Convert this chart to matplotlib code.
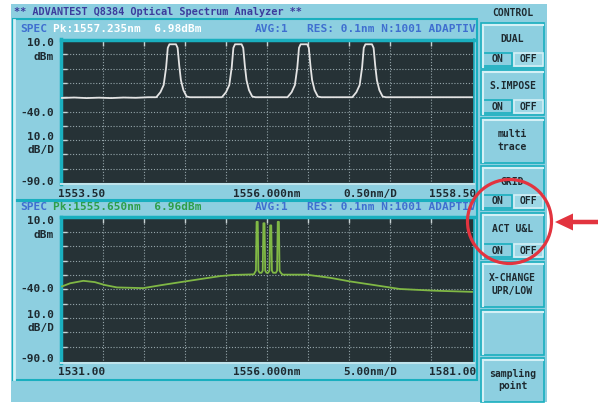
import matplotlib
matplotlib.use("Agg")
import matplotlib.pyplot as plt
from matplotlib import patches

# --- data ---------------------------------------------------------------
# upper trace: 4 filtered channels (0.5 nm/div, 1553.50 .. 1558.50 nm)
upper_span = (1553.50, 1558.50)
upper_peaks = [1554.85, 1555.65, 1556.45, 1557.24]
upper_profile_off = [-0.20, -0.15, -0.11, -0.08, -0.06, -0.04, 0.04, 0.06, 0.08, 0.10, 0.13, 0.17, 0.21]
upper_profile_db = [-30.0, -26.5, -21.5, -9.0, 4.5, 7.0, 7.0, 4.5, -8.0, -18.0, -25.0, -29.5, -30.0]
upper_left_wl = [1553.50, 1553.65, 1553.80, 1553.95, 1554.10, 1554.25, 1554.40, 1554.55]
upper_left_db = [-30.5, -30.2, -30.6, -30.3, -30.6, -30.2, -30.4, -30.0]
upper_right_wl = [1558.50]
upper_right_db = [-30.0]

# lower trace: ASE floor + 4 channels (5 nm/div, 1531.00 .. 1581.00 nm)
lower_span = (1531.00, 1581.00)
lower_floor_left_wl = [1531.0, 1532.0, 1533.6, 1535.0, 1536.2, 1537.7, 1540.9, 1543.0,
                       1546.6, 1550.3, 1551.9, 1554.4]
lower_floor_left_db = [-38.0, -35.8, -34.1, -35.0, -37.0, -38.7, -39.2, -37.2,
                       -34.0, -30.8, -30.0, -29.6]
lower_peaks = [1554.80, 1555.63, 1556.45, 1557.38]
lower_peak_top = [7.0, 6.0, 4.5, 7.0]
lower_profile_off = [-0.30, -0.15, -0.07, 0.07, 0.15, 0.30]
lower_profile_db = [-28.5, -27.0, 0.0, 0.0, -27.0, -28.5]
lower_floor_right_wl = [1557.9, 1560.8, 1563.7, 1566.1, 1569.0, 1572.2, 1576.5, 1581.0]
lower_floor_right_db = [-29.8, -29.8, -32.0, -34.5, -37.0, -39.8, -41.0, -41.8]

y_range = (-90.0, 10.0)
upper_header = ("Pk:1557.235nm  6.98dBm", "AVG:1", "RES: 0.1nm N:1001 ADAPTIV")
lower_header = ("Pk:1555.650nm  6.96dBm", "AVG:1", "RES: 0.1nm N:1001 ADAPTIV")
upper_xlabels = ("1553.50", "1556.000nm", "0.50nm/D", "1558.50")
lower_xlabels = ("1531.00", "1556.000nm", "5.00nm/D", "1581.00")
ylabels = ("10.0", "dBm", "-40.0", "10.0", "dB/D", "-90.0")

buttons = [
    ("DUAL", 23, 68, True),
    ("S.IMPOSE", 70, 115, True),
    ("multi\ntrace", 118, 163, False),
    ("GRID", 166, 210, True),
    ("ACT U&L", 213, 259, True),
    ("X-CHANGE\nUPR/LOW", 262, 307, False),
    ("", 310, 355, False),
    ("sampling\npoint", 358, 402, False),
]

# --- styling ------------------------------------------------------------
W, H = 599, 403
SCREEN = "#8DCFE0"
TEAL = "#1AAFBF"
LIGHT = "#D4F0F6"
DARK = "#263236"
GRID = "#95A5AA"
BLUE_TXT = "#3F6FD0"
RED = "#E2343F"
INK = "#1E2A30"
MONO = "DejaVu Sans Mono"


def px_axes(fig, x0, y0, x1, y1, **kw):
    return fig.add_axes([x0 / W, 1 - y1 / H, (x1 - x0) / W, (y1 - y0) / H], **kw)


def build_trace(peaks, off, db, tops=None):
    xs, ys = [], []
    for i, c in enumerate(peaks):
        for o, d in zip(off, db):
            xs.append(c + o)
            if tops is not None and d == 0.0:
                ys.append(tops[i])
            else:
                ys.append(d)
    return xs, ys


fig = plt.figure(figsize=(W / 100, H / 100), dpi=100)
fig.patch.set_facecolor("white")

ui = px_axes(fig, 0, 0, W, H, zorder=0)
ui.set_xlim(0, W)
ui.set_ylim(H, 0)
ui.axis("off")

ui.add_patch(patches.Rectangle((11, 4), 536, 398, fc=SCREEN, ec="none"))
ui.add_patch(patches.Rectangle((13, 19), 464, 181, fc="none", ec=TEAL, lw=1.5))
ui.add_patch(patches.Rectangle((13, 201), 464, 179, fc="none", ec=TEAL, lw=1.5))
ui.plot([14, 14], [20, 379], color=LIGHT, lw=2)

ui.text(14, 12, "** ADVANTEST Q8384 Optical Spectrum Analyzer **", fontsize=7.4,
        family=MONO, weight="bold", color="#3C3C9C", va="center")
ui.text(512.5, 13, "CONTROL", fontsize=7, family=MONO, weight="bold",
        color=INK, va="center", ha="center")


def header(y, pk, pk_color, texts):
    ui.text(20, y, "SPEC", fontsize=8, family=MONO, weight="bold", color=BLUE_TXT, va="center")
    ui.text(53, y, pk, fontsize=8, family=MONO, weight="bold", color=pk_color, va="center")
    ui.text(255, y, texts[1], fontsize=8, family=MONO, weight="bold", color=BLUE_TXT, va="center")
    ui.text(476, y, texts[2], fontsize=8, family=MONO, weight="bold", color=BLUE_TXT,
            va="center", ha="right")


def side_labels(ys):
    for lab, y in zip(ylabels, ys):
        ui.text(54, y, lab, fontsize=8, family=MONO, weight="bold", color=INK,
                va="center", ha="right")


def bottom_labels(y, labs):
    ui.text(58, y, labs[0], fontsize=8, family=MONO, weight="bold", color=INK, va="center")
    ui.text(233, y, labs[1], fontsize=8, family=MONO, weight="bold", color=INK, va="center")
    ui.text(370, y, labs[2], fontsize=8, family=MONO, weight="bold", color=INK,
            va="center", ha="center")
    ui.text(476, y, labs[3], fontsize=8, family=MONO, weight="bold", color=INK,
            va="center", ha="right")


header(29, upper_header[0], "white", upper_header)
header(207, lower_header[0], "#2E9E4A", lower_header)
side_labels([43.5, 57, 112.5, 137, 150.5, 182])
side_labels([221.5, 235, 289.5, 315, 328.5, 359])
bottom_labels(194, upper_xlabels)
bottom_labels(372, lower_xlabels)

# side buttons
for label, y0, y1, onoff in buttons:
    ui.add_patch(patches.Rectangle((481, y0), 63, y1 - y0, fc=SCREEN, ec=TEAL, lw=1.2))
    ui.plot([482.5, 542.5], [y0 + 1.5, y0 + 1.5], color=LIGHT, lw=1.5)
    ui.plot([482.5, 482.5], [y0 + 1.5, y1 - 1.5], color=LIGHT, lw=1.5)
    if onoff:
        ui.text(512.5, y0 + 16, label, fontsize=7, family=MONO, weight="bold",
                color=INK, va="center", ha="center")
        ui.add_patch(patches.Rectangle((482.5, y1 - 15), 29.5, 13, fc=SCREEN, ec=TEAL, lw=1.2))
        ui.add_patch(patches.Rectangle((513.5, y1 - 15), 29.5, 13, fc="#9ED8E6", ec=LIGHT, lw=1.2))
        ui.text(497, y1 - 8.5, "ON", fontsize=7, family=MONO, weight="bold",
                color=INK, va="center", ha="center")
        ui.text(528, y1 - 8.5, "OFF", fontsize=7, family=MONO, weight="bold",
                color=INK, va="center", ha="center")
    elif label:
        ui.text(512.5, (y0 + y1) / 2, label, fontsize=7, family=MONO, weight="bold",
                color=INK, va="center", ha="center", linespacing=1.35)


def spectrum_axes(rect, span, xs, ys, color):
    ax = px_axes(fig, *rect, zorder=2)
    ax.set_facecolor(DARK)
    ax.plot(xs, ys, color=color, lw=1.3, zorder=3)
    ax.set_xlim(span[0] - (span[1] - span[0]) / 410, span[1] + 2 * (span[1] - span[0]) / 410)
    ax.set_ylim(y_range[0] - 1.0, y_range[1] + 0.35)
    step = (span[1] - span[0]) / 10
    ax.set_xticks([span[0] + step * i for i in range(1, 10)])
    ax.set_yticks(range(-80, 10, 10))
    ax.grid(True, color=GRID, linestyle=(0, (1, 1.6)), lw=0.8)
    ax.tick_params(direction="in", length=4, width=1, color="#C8D2D4",
                   top=True, bottom=False, left=True, right=False,
                   labelbottom=False, labelleft=False)
    for side in ("left", "top"):
        ax.spines[side].set_color(TEAL)
        ax.spines[side].set_linewidth(2.5)
    ax.spines["right"].set_color(TEAL)
    ax.spines["right"].set_linewidth(1.2)
    ax.spines["bottom"].set_color("#C0E4EC")
    ax.spines["bottom"].set_linewidth(1.5)
    return ax


ux, uy = build_trace(upper_peaks, upper_profile_off, upper_profile_db)
ux = upper_left_wl + ux + upper_right_wl
uy = upper_left_db + uy + upper_right_db
spectrum_axes((61, 39.5, 474, 184.5), upper_span, ux, uy, "#E4E4E4")

lx, ly = build_trace(lower_peaks, lower_profile_off, lower_profile_db, lower_peak_top)
lx = lower_floor_left_wl + lx + lower_floor_right_wl
ly = lower_floor_left_db + ly + lower_floor_right_db
spectrum_axes((61, 217, 474, 362.5), lower_span, lx, ly, "#80B845")

# red annotation on top
ov = px_axes(fig, 0, 0, W, H, zorder=5)
ov.set_xlim(0, W)
ov.set_ylim(H, 0)
ov.axis("off")
ov.patch.set_alpha(0)
ov.add_patch(patches.Circle((509.5, 221.5), 42, fill=False, ec=RED, lw=2.3))
ov.add_patch(patches.FancyArrow(598, 222, -43, 0, width=4.5, head_width=17, head_length=18,
                                length_includes_head=True, color=RED, lw=0))

fig.savefig("out.png", dpi=100, facecolor="white")
